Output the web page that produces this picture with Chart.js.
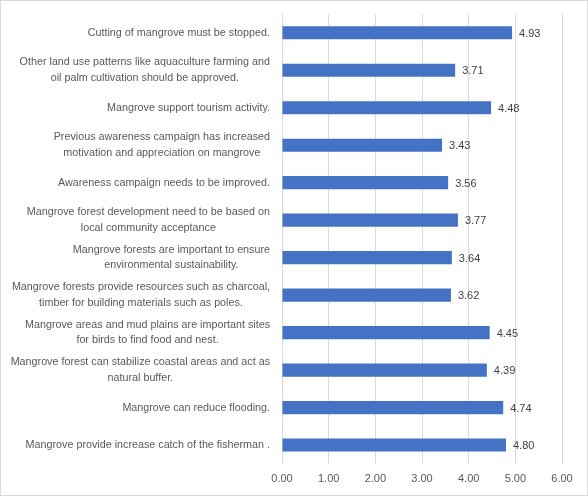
<!DOCTYPE html>
<html>
<head>
<meta charset="utf-8">
<script src="https://cdn.jsdelivr.net/npm/chart.js@4/dist/chart.umd.min.js"></script>
<style>
  html, body { margin: 0; padding: 0; background: #fff; }
  #wrap { width: 586px; height: 494px; border: 1px solid #d9d9d9; }
</style>
</head>
<body>
<div id="wrap"><canvas id="chart"></canvas></div>
<script>
// Survey statements (category axis)
const statements = [
    ['Cutting of mangrove must be stopped.'],
    ['Other land use patterns like aquaculture farming and', 'oil palm cultivation should be approved.'],
    ['Mangrove support tourism activity.'],
    ['Previous awareness campaign has increased', 'motivation and appreciation on mangrove'],
    ['Awareness campaign needs to be improved.'],
    ['Mangrove forest development need to be based on', 'local community acceptance'],
    ['Mangrove forests are important to ensure', 'environmental sustainability.'],
    ['Mangrove forests provide resources such as charcoal,', 'timber for building materials such as poles.'],
    ['Mangrove areas and mud plains are important sites', 'for birds to find food and nest.'],
    ['Mangrove forest can stabilize coastal areas and act as', 'natural buffer.'],
    ['Mangrove can reduce flooding.'],
    ['Mangrove provide increase catch of the fisherman .']
];

// Mean scores
const meanScores = [4.93, 3.71, 4.48, 3.43, 3.56, 3.77, 3.64, 3.62, 4.45, 4.39, 4.74, 4.80];

// X axis ticks
const xTicks = [0, 1, 2, 3, 4, 5, 6];

const FONT = 'Liberation Sans';

// Value labels at the end of each bar
const valueLabels = {
    id: 'valueLabels',
    afterDatasetsDraw(chart) {
        const ctx = chart.ctx;
        const meta = chart.getDatasetMeta(0);
        ctx.save();
        ctx.font = '11px "' + FONT + '"';
        ctx.fillStyle = '#404040';
        ctx.textBaseline = 'middle';
        ctx.textAlign = 'left';
        meta.data.forEach((bar, i) => {
            ctx.fillText(meanScores[i].toFixed(2), bar.x + 7, bar.y + 1);
        });
        ctx.restore();
    }
};

// Category labels: block right-aligned to the axis, lines centred inside the block
const categoryLabels = {
    id: 'categoryLabels',
    afterDraw(chart) {
        const ctx = chart.ctx;
        const yScale = chart.scales.y;
        const lineH = 15.5;
        ctx.save();
        ctx.font = '10.75px "' + FONT + '"';
        ctx.fillStyle = '#595959';
        ctx.textBaseline = 'middle';
        ctx.textAlign = 'center';
        statements.forEach((lines, i) => {
            const yMid = yScale.getPixelForValue(i);
            const blockW = Math.max(...lines.map(l => ctx.measureText(l).width));
            const cx = yScale.right - 12 - blockW / 2;
            const y0 = yMid - (lines.length - 1) * lineH / 2;
            lines.forEach((l, j) => ctx.fillText(l, cx, y0 + j * lineH));
        });
        ctx.restore();
    }
};

new Chart(document.getElementById('chart'), {
    type: 'bar',
    data: {
        labels: statements,
        datasets: [{
            data: meanScores,
            backgroundColor: '#4472c4',
            barPercentage: 0.7,
            categoryPercentage: 0.5
        }]
    },
    options: {
        indexAxis: 'y',
        responsive: true,
        maintainAspectRatio: false,
        animation: false,
        layout: { padding: { top: 13, right: 25, bottom: 0, left: 0 } },
        plugins: {
            legend: { display: false },
            tooltip: { enabled: false }
        },
        scales: {
            x: {
                min: 0,
                max: 6,
                afterBuildTicks: axis => { axis.ticks = xTicks.map(v => ({ value: v })); },
                grid: { color: '#d9d9d9', drawTicks: false },
                border: { display: false },
                ticks: {
                    padding: 9,
                    color: '#595959',
                    font: { family: FONT, size: 11 },
                    callback: v => Number(v).toFixed(2)
                }
            },
            y: {
                grid: { display: false },
                border: { display: true, color: '#d9d9d9' },
                ticks: { display: false },
                afterFit: axis => { axis.width = 281; }
            }
        }
    },
    plugins: [valueLabels, categoryLabels]
});
</script>
</body>
</html>
